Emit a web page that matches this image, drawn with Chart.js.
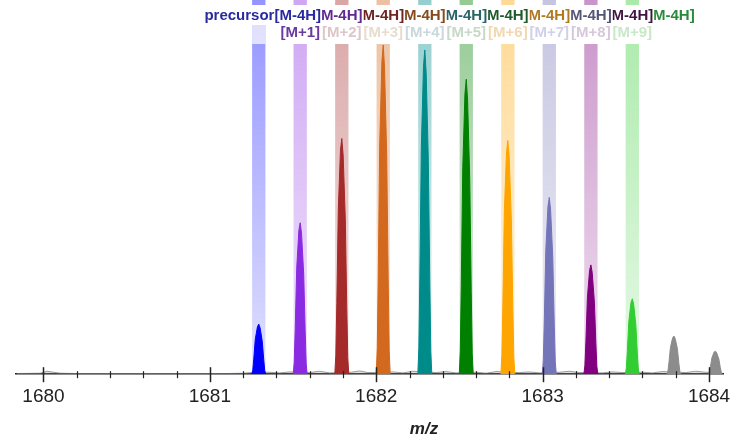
<!DOCTYPE html>
<html>
<head>
<meta charset="utf-8">
<script src="https://cdn.jsdelivr.net/npm/chart.js@4/dist/chart.umd.min.js"></script>
<style>
  html, body { margin: 0; padding: 0; background: #fff; }
  #wrap { width: 734px; height: 437px; position: relative; }
</style>
</head>
<body>
<div id="wrap"><canvas id="spectrum"></canvas></div>
<script>
// isotope peak centres (m/z) for the 4- precursor
const peakMz = [1681.294, 1681.543, 1681.793, 1682.042, 1682.292, 1682.541,
                1682.791, 1683.040, 1683.290, 1683.539, 1683.789, 1684.038];

const peakColors = ["#0000ff", "#8a2be2", "#a52a2a", "#d2691e", "#008b8b", "#008000",
                    "#ffa500", "#7474b8", "#800080", "#32cd32", "#8c8c8c", "#8c8c8c"];

// m/z offsets from the centre used for every peak profile
const profileOffsets = [-0.042, -0.036, -0.030, -0.021, -0.008, 0, 0.008, 0.021, 0.030, 0.036, 0.042];

// relative intensity (%) of each peak at those offsets
const peakProfiles = [
  [0, 1.2, 4.6, 10.6, 14.4, 15.2, 14.1, 10.0, 4.3, 1.1, 0],
  [0, 3.7, 13.8, 32.2, 43.7, 46.0, 42.8, 30.4, 12.9, 3.2, 0],
  [0, 5.7, 21.5, 50.1, 68.0, 71.6, 66.6, 47.3, 20.0, 5.0, 0],
  [0, 8.0, 30.0, 70.0, 95.0, 100, 93.0, 66.0, 28.0, 7.0, 0],
  [0, 7.9, 29.6, 69.0, 93.6, 98.5, 91.6, 65.0, 27.6, 6.9, 0],
  [0, 7.2, 26.9, 62.7, 85.1, 89.6, 83.3, 59.1, 25.1, 6.3, 0],
  [0, 5.7, 21.3, 49.7, 67.5, 71.0, 66.0, 46.9, 19.9, 5.0, 0],
  [0, 4.3, 16.1, 37.6, 51.0, 53.7, 49.9, 35.4, 15.0, 3.8, 0],
  [0, 2.7, 10.0, 23.2, 31.5, 33.2, 30.9, 21.9, 9.3, 2.3, 0],
  [0, 1.8, 6.9, 16.0, 21.8, 22.9, 21.3, 15.1, 6.4, 1.6, 0],
  [0, 0.9, 3.5, 8.1, 11.0, 11.6, 10.8, 7.7, 3.2, 0.8, 0],
  [0, 0.6, 2.1, 4.9, 6.7, 7.0, 6.5, 4.6, 2.0, 0.5, 0]
];

// baseline noise
const noiseMz = [1679.84, 1679.98, 1680.02, 1680.06, 1680.10, 1680.20, 1681.10, 1681.20, 1681.25,
                 1681.35, 1681.42, 1681.48, 1681.60, 1681.66, 1681.72, 1681.85, 1681.90, 1681.95,
                 1682.10, 1682.16, 1682.22, 1682.36, 1682.42, 1682.48, 1682.60, 1682.66, 1682.72,
                 1682.86, 1682.92, 1682.98, 1683.10, 1683.16, 1683.22, 1683.36, 1683.42, 1683.48,
                 1683.60, 1683.66, 1683.72, 1683.86, 1683.92, 1683.98, 1684.08];
const noiseIntensity = [0.2, 0.3, 0.9, 0.6, 0.3, 0.2, 0.2, 0.3, 0.5,
                        0.6, 0.4, 0.7, 0.5, 0.9, 0.4, 0.6, 1.0, 0.5,
                        0.7, 0.4, 0.9, 0.5, 0.8, 0.4, 0.6, 0.3, 0.8,
                        0.5, 0.7, 0.4, 0.6, 0.9, 0.5, 0.4, 0.7, 0.5,
                        0.6, 0.4, 0.8, 0.5, 0.9, 0.6, 0.4];

// labels over the highlighted isotopes
const precursorLabel = "precursor[M-4H]";
const precursorLabelColors = ["#2a2aa0", "#5e2a92", "#6e2424", "#864a1e", "#2a6666", "#1f5a2c",
                              "#b07a22", "#555578", "#401640", "#2a8a3a"];
const isotopeLabels = ["", "[M+1]", "[M+2]", "[M+3]", "[M+4]", "[M+5]", "[M+6]", "[M+7]", "[M+8]", "[M+9]"];
const isotopeLabelColors = ["#ffffff", "#6a3aa0", "#dcc6ca", "#e8dccf", "#c8d8dc", "#c8d8c8",
                            "#f2d8ae", "#d0d0e8", "#d6c8da", "#c8e8c8"];

const majorTicks = [1680, 1681, 1682, 1683, 1684];
const minorTicks = [1680.2, 1680.4, 1680.6, 1680.8, 1681.2, 1681.4, 1681.6, 1681.8,
                    1682.2, 1682.4, 1682.6, 1682.8, 1683.2, 1683.4, 1683.6, 1683.8];

const bandHalfWidth = 0.04;
const font = "'Liberation Sans', Arial, sans-serif";

function rgba(hex, a) {
  const n = parseInt(hex.slice(1), 16);
  return `rgba(${(n >> 16) & 255},${(n >> 8) & 255},${n & 255},${a})`;
}

const isotopeBands = {
  id: "isotopeBands",
  beforeDatasetsDraw(chart) {
    const { ctx, chartArea, scales: { x } } = chart;
    ctx.save();
    for (let i = 0; i < isotopeLabels.length; i++) {
      const cx = x.getPixelForValue(peakMz[i]);
      const half = x.getPixelForValue(peakMz[i] + bandHalfWidth) - cx;
      const grad = ctx.createLinearGradient(0, 0, 0, chartArea.bottom);
      grad.addColorStop(0, rgba(peakColors[i], 0.42));
      grad.addColorStop(1, rgba(peakColors[i], 0.12));
      ctx.fillStyle = grad;
      ctx.fillRect(cx - half, 0, half * 2, chartArea.bottom);
    }
    ctx.restore();
  },
  afterDraw(chart) {
    const { ctx, chartArea, scales: { x } } = chart;
    const axisY = chartArea.bottom;
    ctx.save();

    // tick marks crossing the axis line
    ctx.strokeStyle = "#222";
    ctx.lineWidth = 1.5;
    majorTicks.forEach(v => {
      const px = Math.round(x.getPixelForValue(v)) + 0.5;
      ctx.beginPath(); ctx.moveTo(px, axisY - 7); ctx.lineTo(px, axisY + 8); ctx.stroke();
    });
    ctx.lineWidth = 1.2;
    minorTicks.forEach(v => {
      const px = Math.round(x.getPixelForValue(v)) + 0.5;
      ctx.beginPath(); ctx.moveTo(px, axisY - 3); ctx.lineTo(px, axisY + 4); ctx.stroke();
    });

    // precursor labels, drawn right to left so the left one sits on top
    ctx.font = `bold 15px ${font}`;
    ctx.textAlign = "center";
    ctx.textBaseline = "middle";
    for (let i = isotopeLabels.length - 1; i >= 0; i--) {
      const cx = x.getPixelForValue(peakMz[i]) + 4;
      const w = ctx.measureText(precursorLabel).width;
      ctx.fillStyle = "#fff";
      ctx.fillRect(cx - w / 2 - 1, 5, w + 2, 20);
      ctx.fillStyle = precursorLabelColors[i];
      ctx.fillText(precursorLabel, cx, 16);
    }

    // isotope labels on the second row
    for (let i = 0; i < isotopeLabels.length; i++) {
      const cx = x.getPixelForValue(peakMz[i]);
      if (!isotopeLabels[i]) {
        const half = x.getPixelForValue(peakMz[i] + bandHalfWidth) - cx;
        ctx.fillStyle = "rgba(255,255,255,0.7)";
        ctx.fillRect(cx - half, 25, half * 2, 19);
        continue;
      }
      const w = ctx.measureText(isotopeLabels[i]).width;
      ctx.fillStyle = "#fff";
      ctx.fillRect(cx - w / 2 - 1, 25, w + 2, 19);
      ctx.fillStyle = isotopeLabelColors[i];
      ctx.fillText(isotopeLabels[i], cx, 33);
    }

    // axis title
    ctx.fillStyle = "#222";
    ctx.font = `italic bold 17px ${font}`;
    ctx.fillText("m/z", 424, 429);
    ctx.restore();
  }
};

const datasets = peakProfiles.map((profile, i) => ({
  data: profile.map((v, j) => ({ x: peakMz[i] + profileOffsets[j], y: v })),
  borderColor: peakColors[i],
  backgroundColor: peakColors[i],
  borderWidth: 1,
  fill: "origin",
  pointRadius: 0,
  tension: 0,
  order: 1
}));

datasets.push({
  data: noiseMz.map((m, i) => ({ x: m, y: noiseIntensity[i] })),
  borderColor: "rgba(120,120,120,0.7)",
  backgroundColor: "rgba(150,150,150,0.3)",
  borderWidth: 1,
  fill: "origin",
  pointRadius: 0,
  tension: 0,
  order: 2
});

new Chart(document.getElementById("spectrum"), {
  type: "line",
  data: { datasets },
  options: {
    responsive: true,
    maintainAspectRatio: false,
    animation: false,
    layout: { padding: { top: 45, left: 16, right: 11, bottom: 18 } },
    plugins: { legend: { display: false }, tooltip: { enabled: false } },
    scales: {
      x: {
        type: "linear",
        min: 1679.835,
        max: 1684.084,
        afterBuildTicks: scale => { scale.ticks = majorTicks.map(v => ({ value: v })); },
        // the end labels fit inside the canvas, so no extra side padding
        afterFit: scale => { scale.paddingLeft = 0; scale.paddingRight = 0; },
        grid: { display: false, drawTicks: false },
        border: { display: true, color: "#222", width: 1.5 },
        ticks: {
          autoSkip: false,
          maxRotation: 0,
          padding: 11,
          color: "#222",
          font: { family: font, size: 19 },
          callback: v => String(v)
        }
      },
      y: {
        display: false,
        min: 0,
        max: 100
      }
    }
  },
  plugins: [isotopeBands]
});
</script>
</body>
</html>
